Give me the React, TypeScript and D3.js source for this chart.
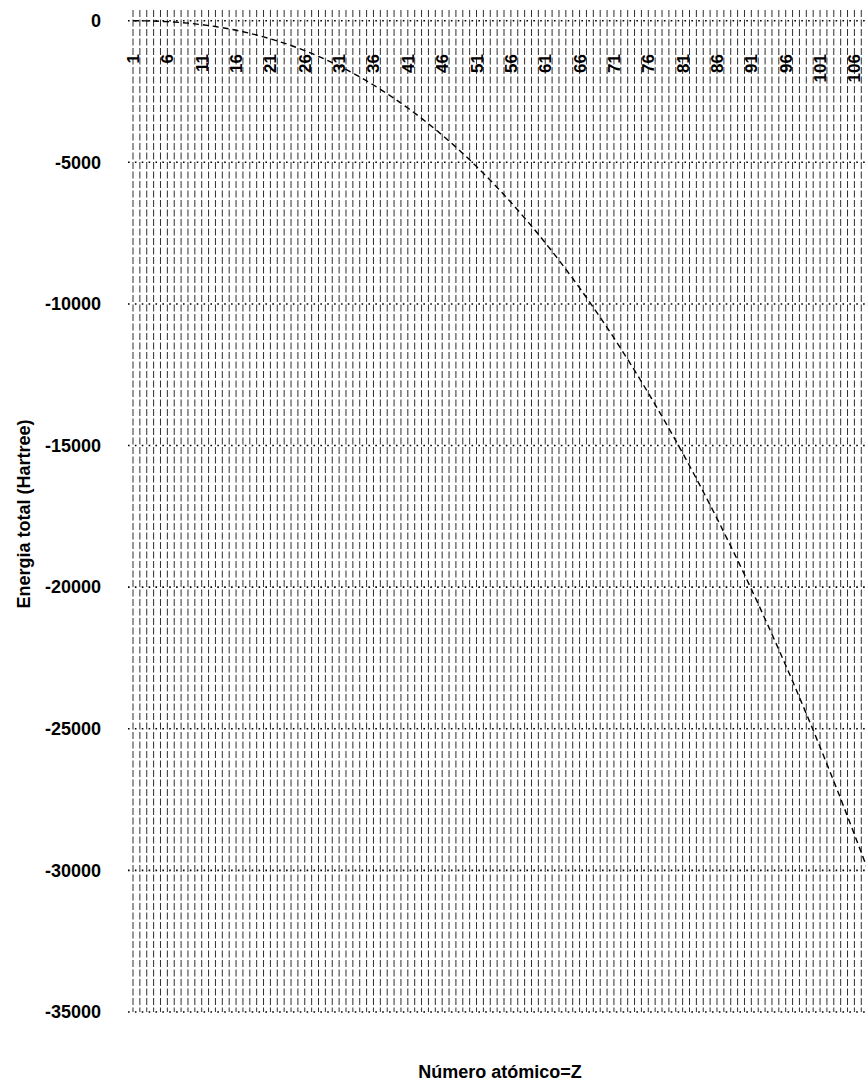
import React, { useEffect, useRef } from 'react';
import * as d3 from 'd3';

// numero atomico Z (categorias del eje X)
const atomicNumbers: number[] = d3.range(1, 109);

// energia total (Hartree)
const totalEnergy: number[] = [
  -1, -3, -7, -13, -22, -34, -48, -66, -87, -112,
  -140, -172, -207, -247, -290, -338, -389, -445, -506, -570,
  -640, -713, -792, -875, -963, -1056, -1154, -1258, -1366, -1479,
  -1597, -1722, -1850, -1985, -2125, -2271, -2422, -2578, -2740, -2909,
  -3083, -3262, -3447, -3639, -3836, -4039, -4248, -4464, -4685, -4913,
  -5147, -5387, -5634, -5887, -6148, -6413, -6686, -6964, -7249, -7541,
  -7840, -8146, -8457, -8777, -9102, -9435, -9774, -10120, -10473, -10834,
  -11200, -11575, -11957, -12345, -12741, -13143, -13553, -13971, -14395, -14827,
  -15265, -15712, -16167, -16630, -17099, -17574, -18058, -18550, -19049, -19555,
  -20070, -20592, -21122, -21661, -22207, -22758, -23318, -23890, -24466, -25050,
  -25644, -26245, -26851, -27468, -28095, -28727, -29368, -30016,
];

const xTickLabels: number[] = [1, 6, 11, 16, 21, 26, 31, 36, 41, 46, 51, 56, 61, 66, 71, 76, 81, 86, 91, 96, 101, 106];
const yTicks: number[] = [0, -5000, -10000, -15000, -20000, -25000, -30000, -35000];

const width = 866;
const height = 1085;
const margin = { left: 128, right: 0, top: 20.7, bottom: 73 };

const App = () => {
  const svgRef = useRef<SVGSVGElement>(null);

  useEffect(() => {
    const svg = d3.select(svgRef.current);
    svg.selectAll('*').remove();

    const xScale = d3.scaleLinear().domain([1, 106]).range([133, 854.4]);
    const yScale = d3.scaleLinear().domain([-35000, 0]).range([height - margin.bottom, margin.top]);

    const font = "'Liberation Sans', Arial, sans-serif";

    // lineas verticales por categoria
    svg.append('g')
      .selectAll('line')
      .data(atomicNumbers)
      .join('line')
      .attr('x1', d => xScale(d))
      .attr('x2', d => xScale(d))
      .attr('y1', 10)
      .attr('y2', yScale(-35000))
      .attr('stroke', '#2e2e2e')
      .attr('stroke-width', 1)
      .attr('stroke-dasharray', '7,2.5');

    // lineas horizontales punteadas
    svg.append('g')
      .selectAll('line')
      .data(yTicks)
      .join('line')
      .attr('x1', margin.left)
      .attr('x2', width)
      .attr('y1', d => yScale(d))
      .attr('y2', d => yScale(d))
      .attr('stroke', '#000')
      .attr('stroke-width', 1.6)
      .attr('stroke-dasharray', '1.6,5.27');

    // eje Y
    const yAxis = d3.axisLeft(yScale)
      .tickValues(yTicks)
      .tickSize(0)
      .tickPadding(27)
      .tickFormat(d => `${d}`);

    const gy = svg.append('g')
      .attr('transform', `translate(${margin.left}, 0)`)
      .call(yAxis);
    gy.select('.domain').remove();
    gy.selectAll('text')
      .attr('font-family', font)
      .attr('font-size', 18)
      .attr('font-weight', 'bold')
      .attr('fill', '#000');

    // etiquetas X arriba, giradas
    svg.append('g')
      .selectAll('text')
      .data(xTickLabels)
      .join('text')
      .attr('transform', d => `translate(${xScale(d) + 6}, 54) rotate(-90)`)
      .attr('text-anchor', 'end')
      .attr('font-family', font)
      .attr('font-size', 17)
      .attr('font-weight', 'bold')
      .text(d => d);

    // curva
    const theLine = d3.line<number>()
      .x((d, i) => xScale(atomicNumbers[i]))
      .y(d => yScale(d));

    svg.append('path')
      .datum(totalEnergy)
      .attr('d', theLine)
      .attr('fill', 'none')
      .attr('stroke', '#000')
      .attr('stroke-width', 1.4)
      .attr('stroke-dasharray', '6,4');

    // titulos
    svg.append('text')
      .attr('x', 500)
      .attr('y', 1078)
      .attr('text-anchor', 'middle')
      .attr('font-family', font)
      .attr('font-size', 18)
      .attr('font-weight', 'bold')
      .text('Número atómico=Z');

    svg.append('text')
      .attr('transform', `translate(30, 514) rotate(-90)`)
      .attr('text-anchor', 'middle')
      .attr('font-family', font)
      .attr('font-size', 18)
      .attr('font-weight', 'bold')
      .text('Energia total (Hartree)');
  }, []);

  return (
    <svg
      ref={svgRef}
      width={width}
      height={height}
      style={{ position: 'absolute', left: 0, top: 0, background: '#fff' }}
    />
  );
};

export default App;
